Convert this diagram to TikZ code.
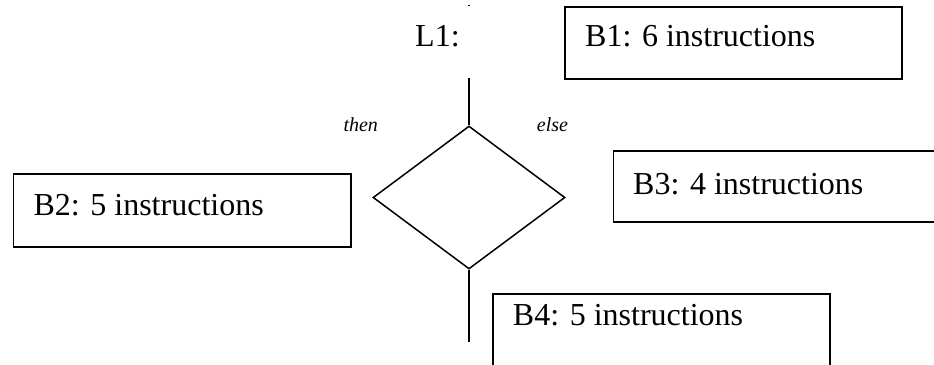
\documentclass[tikz,border=0pt]{standalone}
\usepackage{fontspec}
\setmainfont{Liberation Serif}
\usetikzlibrary{shapes.geometric}
\begin{document}
\begin{tikzpicture}[x=1pt,y=-1pt,
  box/.style={draw=black,line width=1.7pt,rectangle,inner sep=0pt,anchor=north west},
  lbl/.style={inner sep=0pt,anchor=base west,font=\fontsize{32}{38}\selectfont},
  brl/.style={inner sep=0pt,anchor=base west,font=\fontsize{20}{24}\selectfont\itshape},
  conn/.style={draw=black,line width=1.6pt}]
\clip (0,0) rectangle (934,364);
\fill[white] (0,0) rectangle (934,364);
% boxes
\node[box,minimum width=337pt,minimum height=72pt] (b1) at (564,6) {};
\node[box,minimum width=337.3pt,minimum height=72.7pt] (b2) at (12.7,173.3) {};
\node[box,minimum width=330pt,minimum height=71pt] (b3) at (612.7,150) {};
\node[box,minimum width=336.7pt,minimum height=80pt] (b4) at (492.3,293.3) {};
% box texts
\node[lbl] (b1t) at (585,46.5) {B1: 6 instructions};
\node[lbl] (b2t) at (33.3,215) {B2: 5 instructions};
\node[lbl] (b3t) at (633,194.5) {B3: 4 instructions};
\node[lbl] (b4t) at (512.7,325) {B4: 5 instructions};
\node[lbl] (l1) at (415,46) {L1:};
% branch labels
\node[brl] (then) at (343.3,131.5) {then};
\node[brl] (else) at (536.7,131.5) {else};
% diamond
\node[draw=black,line width=1.5pt,diamond,inner sep=0pt,minimum width=192pt,minimum height=143pt] (d) at (469,197.5) {};
\coordinate (top) at (469,78);
\coordinate (bot) at (469,341.7);
\draw[conn] (top) -- (d.north);
\draw[conn] (d.south) -- (bot);
% tiny tick at the top
\coordinate (t1) at (467.5,5);
\coordinate (t2) at (469.5,5);
\draw[line width=1pt] (t1) -- (t2);
\end{tikzpicture}
\end{document}
